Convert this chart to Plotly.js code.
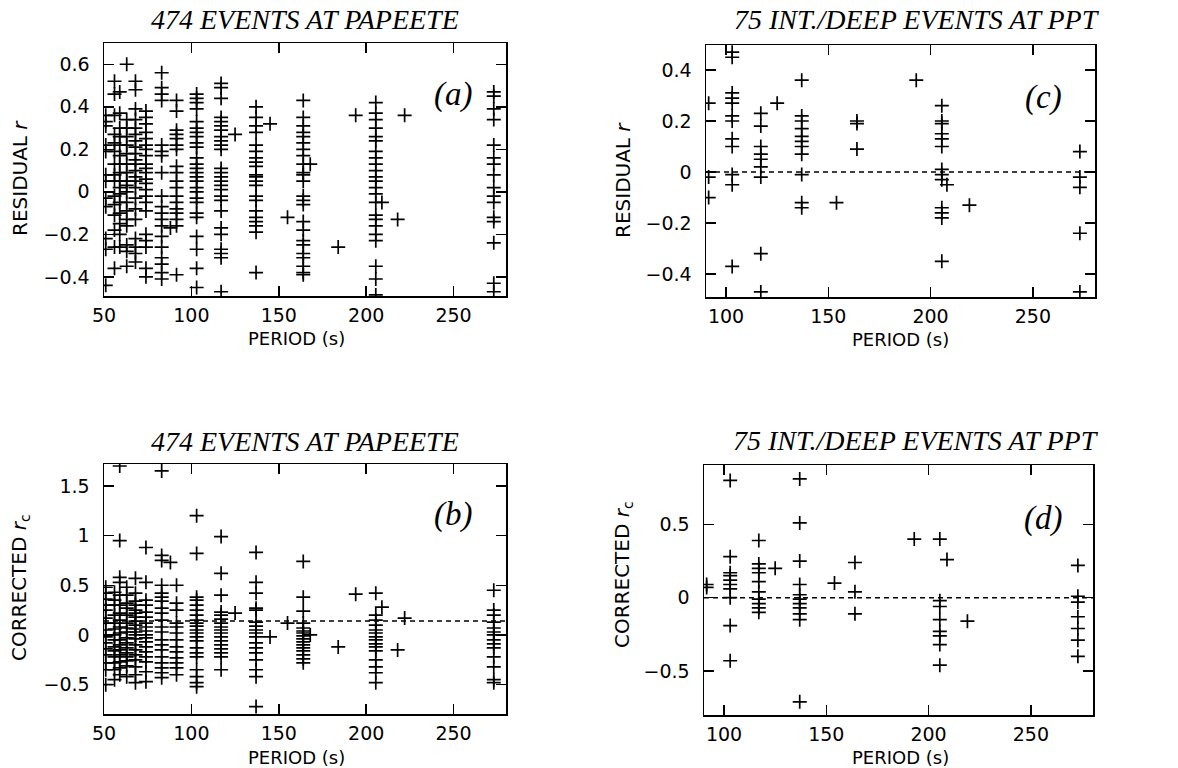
<!DOCTYPE html>
<html>
<head>
<meta charset="utf-8">
<script src="https://cdn.plot.ly/plotly-3.0.1.min.js"></script>
<style>html,body{margin:0;padding:0;background:#fff;}#chart{width:1178px;height:768px;}</style>
</head>
<body>
<div id="chart"></div>
<script>
// ---------- Panel (a): 474 events at Papeete, residual r ----------
const periodsA = [51, 56, 59, 63, 68, 74, 83, 91.5, 103, 117, 137, 164, 205.5, 273];
const residA = [
  [0.36, 0.33, 0.31, 0.22, 0.19, 0.08, 0.05, -0.03, -0.07, -0.22, -0.27, -0.44],
  [0.52, 0.46, 0.36, 0.27, 0.23, 0.19, 0.13, 0.08, 0.05, -0.02, -0.06, -0.11, -0.18, -0.26, -0.36],
  [0.47, 0.37, 0.30, 0.26, 0.22, 0.17, 0.13, 0.09, 0.05, 0.02, -0.01, -0.05, -0.10, -0.15, -0.20, -0.26],
  [0.60, 0.34, 0.30, 0.26, 0.22, 0.18, 0.13, 0.09, 0.05, 0.03, 0.0, -0.05, -0.09, -0.13, -0.16, -0.25, -0.28, -0.35],
  [0.52, 0.48, 0.39, 0.34, 0.30, 0.27, 0.24, 0.21, 0.18, 0.15, 0.13, 0.10, 0.07, 0.05, 0.02, -0.03, -0.08, -0.13, -0.22, -0.26, -0.29, -0.33],
  [0.38, 0.35, 0.32, 0.28, 0.25, 0.22, 0.20, 0.17, 0.13, 0.11, 0.09, 0.06, 0.04, 0.01, -0.02, -0.05, -0.09, -0.20, -0.23, -0.26, -0.36, -0.40],
  [0.56, 0.49, 0.46, 0.43, 0.22, 0.19, 0.17, 0.09, -0.02, -0.07, -0.10, -0.13, -0.16, -0.21, -0.26, -0.31, -0.34, -0.38, -0.41],
  [0.43, 0.38, 0.29, 0.27, 0.25, 0.22, 0.20, 0.12, 0.09, 0.05, 0.02, -0.02, -0.05, -0.08, -0.10, -0.13, -0.16, -0.39],
  [0.46, 0.44, 0.42, 0.39, 0.33, 0.30, 0.28, 0.26, 0.23, 0.21, 0.16, 0.13, 0.11, 0.09, 0.07, 0.05, 0.02, 0.0, -0.03, -0.05, -0.10, -0.12, -0.21, -0.27, -0.36, -0.45],
  [0.51, 0.49, 0.44, 0.35, 0.33, 0.31, 0.29, 0.26, 0.24, 0.22, 0.20, 0.11, 0.09, 0.07, 0.05, 0.03, 0.01, -0.02, -0.04, -0.09, -0.17, -0.20, -0.27, -0.29, -0.31, -0.47],
  [0.40, 0.35, 0.31, 0.28, 0.22, 0.19, 0.16, 0.14, 0.12, 0.08, 0.07, 0.05, 0.03, -0.02, -0.04, -0.09, -0.12, -0.14, -0.16, -0.19, -0.38],
  [0.43, 0.35, 0.31, 0.28, 0.26, 0.23, 0.20, 0.17, 0.13, 0.09, 0.08, 0.05, -0.02, -0.04, -0.06, -0.14, -0.18, -0.23, -0.25, -0.29, -0.31, -0.35, -0.38, -0.39],
  [0.42, 0.37, 0.34, 0.30, 0.26, 0.24, 0.19, 0.16, 0.13, 0.10, 0.07, 0.05, 0.02, -0.01, -0.05, -0.11, -0.13, -0.16, -0.20, -0.23, -0.35, -0.41, -0.485],
  [0.47, 0.45, 0.39, 0.34, 0.22, 0.16, 0.13, 0.08, 0.02, -0.02, -0.05, -0.12, -0.14, -0.24, -0.43, -0.47]
];
const extraPeriodsA = [88, 125, 145, 155, 168, 184, 194, 209, 218, 222];
const extraResidA   = [-0.17, 0.27, 0.32, -0.12, 0.13, -0.26, 0.36, -0.05, -0.13, 0.36];

// ---------- Panel (b): 474 events at Papeete, corrected r_c ----------
const periodsB = [51, 56, 59, 63, 68, 74, 83, 91.5, 103, 117, 137, 164, 205.5, 273];
const corrB = [
  [0.48, 0.42, 0.36, 0.30, 0.25, 0.17, 0.12, 0.05, -0.02, -0.08, -0.14, -0.20, -0.28, -0.35, -0.50],
  [0.43, 0.35, 0.30, 0.20, 0.12, 0.06, 0.0, -0.05, -0.12, -0.16, -0.22, -0.28, -0.35, -0.45],
  [1.70, 0.95, 0.58, 0.53, 0.40, 0.30, 0.22, 0.15, 0.08, 0.02, -0.05, -0.10, -0.15, -0.20, -0.27, -0.33, -0.40],
  [0.48, 0.40, 0.32, 0.27, 0.20, 0.12, 0.07, 0.03, -0.03, -0.08, -0.13, -0.18, -0.22, -0.26, -0.31, -0.42],
  [0.57, 0.42, 0.34, 0.30, 0.25, 0.22, 0.18, 0.14, 0.10, 0.06, 0.03, 0.0, -0.04, -0.10, -0.15, -0.20, -0.25, -0.32, -0.40, -0.48],
  [0.88, 0.53, 0.35, 0.30, 0.23, 0.18, 0.12, 0.08, 0.04, 0.0, -0.03, -0.07, -0.12, -0.17, -0.22, -0.27, -0.37, -0.47],
  [1.65, 0.80, 0.75, 0.50, 0.42, 0.38, 0.34, 0.27, 0.22, 0.15, 0.08, 0.03, -0.05, -0.10, -0.15, -0.22, -0.28, -0.33, -0.38, -0.43],
  [0.50, 0.32, 0.25, 0.12, 0.08, 0.02, -0.05, -0.12, -0.17, -0.23, -0.28, -0.33, -0.40],
  [1.20, 0.82, 0.38, 0.35, 0.30, 0.25, 0.20, 0.15, 0.12, 0.09, 0.05, 0.02, -0.02, -0.06, -0.13, -0.18, -0.22, -0.35, -0.42, -0.48, -0.52],
  [0.99, 0.62, 0.40, 0.23, 0.20, 0.16, 0.12, 0.08, 0.05, 0.02, -0.02, -0.06, -0.10, -0.14, -0.18, -0.22, -0.35],
  [0.83, 0.53, 0.42, 0.27, 0.25, 0.13, 0.09, 0.05, 0.02, -0.02, -0.08, -0.13, -0.18, -0.25, -0.35, -0.42, -0.72],
  [0.74, 0.38, 0.24, 0.12, 0.07, 0.04, 0.02, -0.01, -0.04, -0.07, -0.10, -0.13, -0.16, -0.20, -0.24, -0.28],
  [0.42, 0.20, 0.15, 0.10, 0.05, 0.02, -0.02, -0.05, -0.09, -0.12, -0.16, -0.25, -0.32, -0.38, -0.48],
  [0.45, 0.25, 0.20, 0.13, 0.07, 0.03, 0.0, -0.05, -0.09, -0.13, -0.22, -0.32, -0.45, -0.48]
];
const extraPeriodsB = [88, 125, 145, 155, 168, 184, 194, 209, 218, 222];
const extraCorrB    = [0.73, 0.22, -0.02, 0.12, 0.0, -0.12, 0.41, 0.28, -0.15, 0.17];

// ---------- Panel (c): 75 int./deep events at PPT, residual r ----------
const periodsC = [91.5, 103, 117, 125, 137, 154, 164, 193, 205.5, 208, 219, 273];
const residC = [
  [0.27, -0.02, -0.10],
  [0.47, 0.45, 0.31, 0.29, 0.27, 0.22, 0.20, 0.13, 0.10, -0.01, -0.05, -0.37],
  [0.23, 0.18, 0.10, 0.07, 0.05, 0.02, -0.02, -0.32, -0.47],
  [0.27],
  [0.36, 0.22, 0.20, 0.17, 0.14, 0.12, 0.10, 0.07, -0.01, -0.12, -0.14],
  [-0.12],
  [0.20, 0.19, 0.09],
  [0.36],
  [0.26, 0.20, 0.19, 0.15, 0.13, 0.10, 0.01, -0.01, -0.03, -0.14, -0.16, -0.18, -0.35],
  [-0.05],
  [-0.13],
  [0.08, -0.02, -0.06, -0.24, -0.47]
];

// ---------- Panel (d): 75 int./deep events at PPT, corrected r_c ----------
const periodsD = [91.5, 103, 117, 125, 137, 154, 164, 193, 205.5, 209, 219, 273];
const corrD = [
  [0.09, 0.07],
  [0.80, 0.28, 0.17, 0.15, 0.12, 0.09, 0.06, 0.0, -0.19, -0.43],
  [0.39, 0.23, 0.20, 0.17, 0.11, 0.04, -0.01, -0.04, -0.07, -0.10],
  [0.20],
  [0.81, 0.51, 0.25, 0.09, 0.02, -0.01, -0.04, -0.07, -0.11, -0.15, -0.71],
  [0.10],
  [0.24, 0.04, -0.11],
  [0.40],
  [0.40, -0.02, -0.06, -0.15, -0.23, -0.26, -0.32, -0.46],
  [0.26],
  [-0.16],
  [0.22, 0.01, -0.03, -0.13, -0.21, -0.29, -0.40]
];

// reference (dashed) levels per panel
const dashLevels = {a: null, b: 0.14, c: 0, d: 0};

// text
const titleA = '474 EVENTS AT PAPEETE';
const titleC = '75 INT./DEEP EVENTS AT PPT';
const xTitle = 'PERIOD (s)';
const yTitleRes = 'RESIDUAL <i>r</i>';
const yTitleCor = 'CORRECTED <i>r</i><sub>c</sub>';

function flatten(periods, groups) {
  const x = [], y = [];
  periods.forEach((p, i) => groups[i].forEach(v => { x.push(p); y.push(v); }));
  return {x, y};
}

const marker = {symbol: 'cross-thin-open', size: 10, color: '#000', line: {color: '#000', width: 1.7}};

const fa = flatten(periodsA, residA);
const fb = flatten(periodsB, corrB);
const fc = flatten(periodsC, residC);
const fd = flatten(periodsD, corrD);

const traces = [
  {x: fa.x.concat(extraPeriodsA), y: fa.y.concat(extraResidA), xaxis: 'x', yaxis: 'y'},
  {x: fc.x, y: fc.y, xaxis: 'x2', yaxis: 'y2'},
  {x: fb.x.concat(extraPeriodsB), y: fb.y.concat(extraCorrB), xaxis: 'x3', yaxis: 'y3'},
  {x: fd.x, y: fd.y, xaxis: 'x4', yaxis: 'y4'}
].map(t => Object.assign(t, {type: 'scatter', mode: 'markers', marker: marker, hoverinfo: 'skip'}));

const tickFont = {family: 'DejaVu Sans', size: 19, color: '#000'};

function xa(domain, range, anchor) {
  return {domain, range, anchor, tickvals: [50, 100, 150, 200, 250], ticks: 'inside', ticklen: 10, tickwidth: 1.5,
    tickcolor: '#000', showline: true, linecolor: '#000', linewidth: 1.5, mirror: 'ticks', showgrid: false,
    zeroline: false, tickfont: tickFont, ticklabelstandoff: 2};
}
function ya(domain, range, anchor, tickvals) {
  return {domain, range, anchor, tickvals, ticks: 'inside', ticklen: 10, tickwidth: 1.5,
    tickcolor: '#000', showline: true, linecolor: '#000', linewidth: 1.5, mirror: 'ticks', showgrid: false,
    zeroline: false, tickfont: tickFont, ticklabelstandoff: 9};
}

const W = 1178, H = 768;
const px = (a, b) => [a / W, b / W];
const py = (top, bottom) => [1 - bottom / H, 1 - top / H];

const shapes = [];
[['b', 'x3', 'y3'], ['c', 'x2', 'y2'], ['d', 'x4', 'y4']].forEach(([k, xr, yr]) => {
  const lv = dashLevels[k];
  if (lv === null) return;
  shapes.push({type: 'line', xref: xr + ' domain', yref: yr, x0: 0, x1: 1, y0: lv, y1: lv,
    line: {color: '#000', width: 1.5, dash: '5px,4px'}});
});

const serif = 'Liberation Serif';
const sans = 'DejaVu Sans';
function ann(text, x, y, size, family, angle, style) {
  return {text, x: x / W, y: 1 - y / H, xref: 'paper', yref: 'paper', showarrow: false,
    font: {family, size, color: '#000', style: style || 'normal'}, textangle: angle || 0,
    xanchor: 'center', yanchor: 'middle'};
}

const annotations = [
  ann(titleA, 305, 20, 28, serif, 0, 'italic'),
  ann(titleC, 917, 20, 28, serif, 0, 'italic'),
  ann(titleA, 305, 441, 28, serif, 0, 'italic'),
  ann(titleC, 916, 440, 28, serif, 0, 'italic'),
  ann('(a)', 453, 95, 33, serif, 0, 'italic'),
  ann('(c)', 1043, 97, 33, serif, 0, 'italic'),
  ann('(b)', 453, 514, 33, serif, 0, 'italic'),
  ann('(d)', 1043, 518, 33, serif, 0, 'italic'),
  ann(xTitle, 296, 338, 18, sans),
  ann(xTitle, 901, 340, 18, sans),
  ann(xTitle, 296, 757, 18, sans),
  ann(xTitle, 900, 757, 18, sans),
  ann(yTitleRes, 20, 178, 20, sans, -90),
  ann(yTitleRes, 623, 180, 20, sans, -90),
  ann(yTitleCor, 20, 588, 20, sans, -90),
  ann(yTitleCor, 623, 575, 20, sans, -90)
];

const layout = {
  width: W, height: H, margin: {l: 0, r: 0, t: 0, b: 0}, showlegend: false,
  paper_bgcolor: '#fff', plot_bgcolor: '#fff',
  xaxis:  xa(px(104, 506), [50, 280], 'y'),
  yaxis:  ya(py(43, 296), [-0.49, 0.70], 'x', [-0.4, -0.2, 0, 0.2, 0.4, 0.6]),
  xaxis2: xa(px(706, 1095), [90.2, 280.4], 'y2'),
  yaxis2: ya(py(45, 297), [-0.49, 0.498], 'x2', [-0.4, -0.2, 0, 0.2, 0.4]),
  xaxis3: xa(px(104, 506), [50, 280], 'y3'),
  yaxis3: ya(py(464, 714), [-0.795, 1.72], 'x3', [-0.5, 0, 0.5, 1, 1.5]),
  xaxis4: xa(px(704, 1093), [90.2, 280.4], 'y4'),
  yaxis4: ya(py(465, 715), [-0.8, 0.905], 'x4', [-0.5, 0, 0.5]),
  shapes, annotations
};

Plotly.newPlot('chart', traces, layout, {staticPlot: true, displayModeBar: false});
</script>
</body>
</html>
